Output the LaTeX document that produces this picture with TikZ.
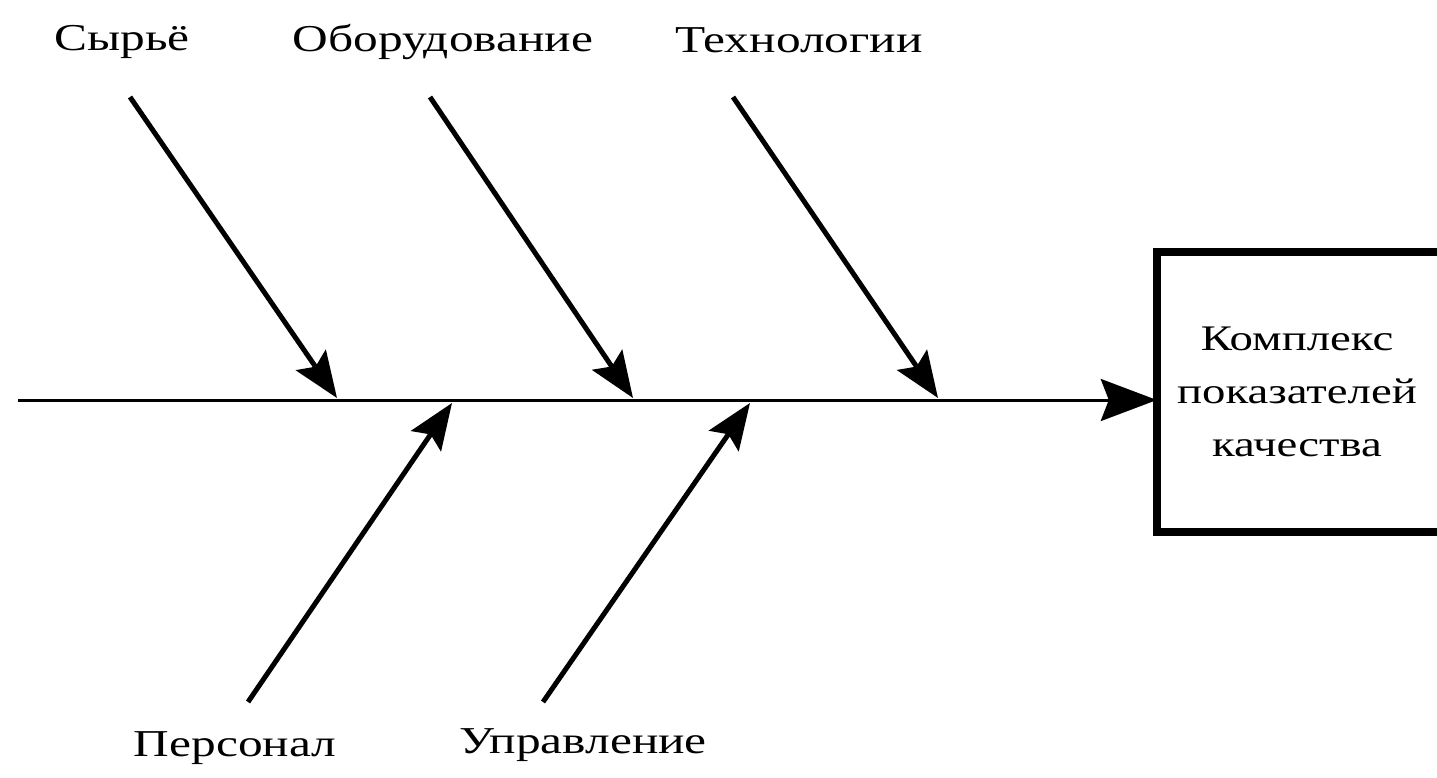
\documentclass[tikz,border=0pt]{standalone}
\usepackage{fontspec}
\setmainfont[FakeStretch=1.3]{Liberation Serif}
\usetikzlibrary{arrows.meta}
\begin{document}
\begin{tikzpicture}[x=1pt,y=-1pt,
  lbl/.style={font=\fontsize{38}{44}\selectfont, inner sep=0pt},
  bone/.style={line width=5pt, -{Stealth[length=46pt,width=36pt,inset=8pt]}},
  spine/.style={line width=3pt, -{Stealth[length=56pt,width=42pt,inset=8pt]}}]
\useasboundingbox (0,0) rectangle (1437,777);
% effect box
\node[minimum width=280pt, minimum height=280pt, inner sep=0pt, align=center,
      font=\fontsize{36}{53}\selectfont] (box) at (1297,392)
      {Комплекс\\показателей\\качества};
\draw[line width=8pt] (box.north east) -- (box.north west) -- (box.south west) -- (box.south east);
% spine
\coordinate (s0) at (18,400);
\coordinate (s1) at (box.west |- s0);
\draw[spine] (s0) -- (s1);
% tips on spine
\coordinate (t1) at (337,398);
\coordinate (t2) at (633,398);
\coordinate (t3) at (938,398);
\coordinate (t4) at (452,403);
\coordinate (t5) at (750,403);
% starts
\coordinate (a1) at (130,97);
\coordinate (a2) at (430,97);
\coordinate (a3) at (733,97);
\coordinate (a4) at (248,702);
\coordinate (a5) at (543,702);
\draw[bone] (a1) -- (t1);
\draw[bone] (a2) -- (t2);
\draw[bone] (a3) -- (t3);
\draw[bone] (a4) -- (t4);
\draw[bone] (a5) -- (t5);
% labels
\node[lbl] (l1) at (122,42) {Сырьё};
\node[lbl] (l2) at (443,42) {Оборудование};
\node[lbl] (l3) at (799,40) {Технологии};
\node[lbl] (l4) at (235,748) {Персонал};
\node[lbl] (l5) at (583,745) {Управление};
\end{tikzpicture}
\end{document}
